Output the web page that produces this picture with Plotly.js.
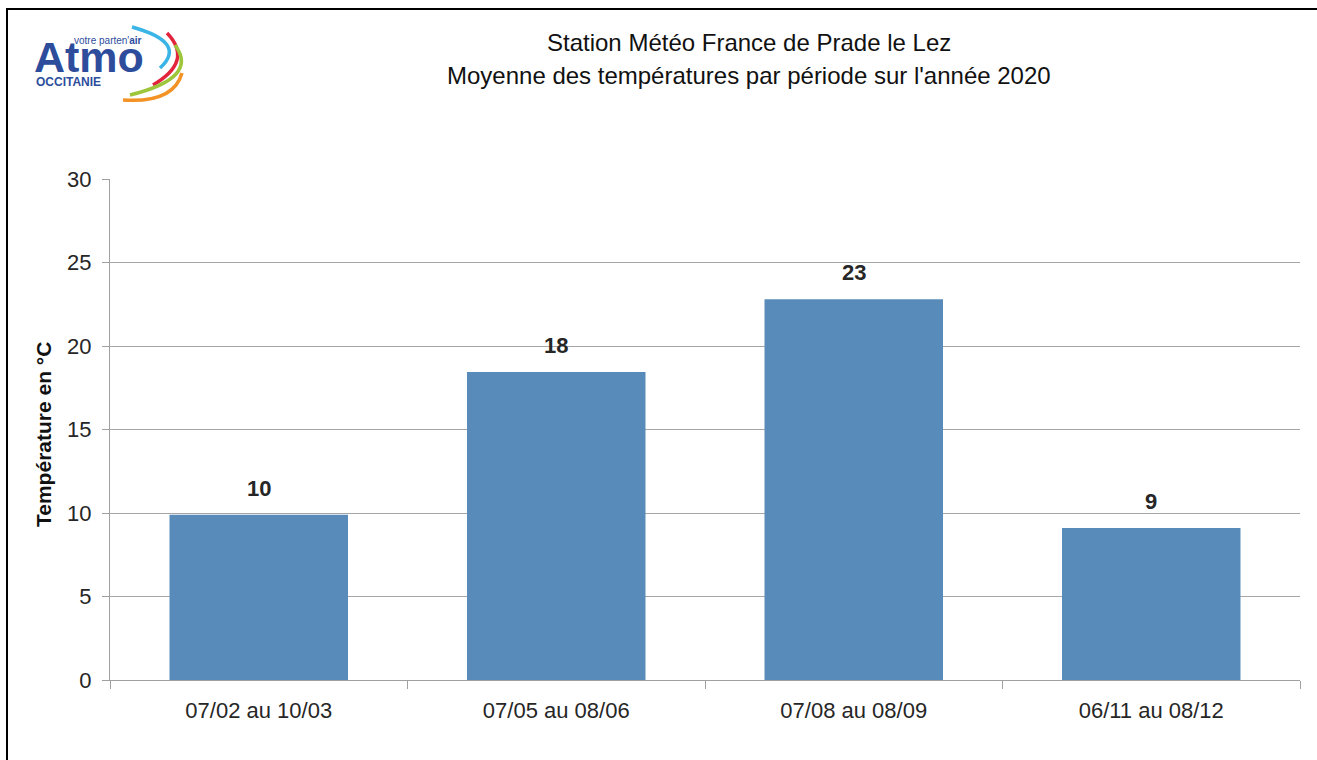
<!DOCTYPE html>
<html>
<head>
<meta charset="utf-8">
<script src="https://cdn.plot.ly/plotly-3.0.1.min.js"></script>
<style>
html,body{margin:0;padding:0;background:#fff;overflow:hidden;}
#wrap{position:relative;width:1317px;height:760px;}
#chart{width:1317px;height:760px;}
#frame{position:absolute;left:6px;top:8px;width:1400px;height:800px;border-left:2px solid #000;border-top:2px solid #000;pointer-events:none;box-sizing:border-box;}
</style>
</head>
<body>
<div id="wrap"><div id="chart"></div><div id="frame"></div></div>
<script>
// ---- data ----
const categories = ["07/02 au 10/03", "07/05 au 08/06", "07/08 au 08/09", "06/11 au 08/12"];
const temperatures = [9.9, 18.45, 22.8, 9.1];
const yTicks = [0, 5, 10, 15, 20, 25, 30];
const titleLines = ["Station Météo France de Prade le Lez", "Moyenne des températures par période sur l'année 2020"];
const yTitle = "Température en °C";

// ---- geometry helpers (page px -> paper) ----
const W = 1317, H = 760;
const M = {l: 110, r: 17, t: 179, b: 80};
const PW = W - M.l - M.r, PH = H - M.t - M.b;
const px = x => (x - M.l) / PW;
const py = y => (H - M.b - y) / PH;

const FONT = "Liberation Sans, Arial, sans-serif";
const barColor = "#588bb9";

const trace = {
  type: "bar",
  x: categories,
  y: temperatures,
  marker: {color: barColor, line: {width: 0}},
  width: 0.6,
  hoverinfo: "x+y"
};

const annotations = categories.map((c, i) => ({
  x: c, y: temperatures[i], xref: "x", yref: "y",
  text: "<b>" + Math.round(temperatures[i]) + "</b>",
  showarrow: false, yanchor: "bottom", yshift: 12,
  font: {family: FONT, size: 22, color: "#262626"}
}));

// title (two lines)
const titleY = [42, 76];
titleLines.forEach((t, i) => annotations.push({
  xref: "paper", yref: "paper", x: px(749), y: py(titleY[i]), xanchor: "center", yanchor: "middle",
  text: t, showarrow: false,
  font: {family: FONT, size: 24, color: "#111"}
}));
// y title
annotations.push({
  xref: "paper", yref: "paper", x: px(43), y: py(435), xanchor: "center", yanchor: "middle",
  text: "<b>" + yTitle + "</b>", textangle: -90, showarrow: false,
  font: {family: "Liberation Sans Narrow, Arial Narrow, " + FONT, size: 21, color: "#111"}
});
// logo texts
annotations.push({
  xref: "paper", yref: "paper", x: px(32), y: py(57), xanchor: "left", yanchor: "middle",
  text: "<b>Atmo</b>", showarrow: false,
  font: {family: FONT, size: 43, color: "#2d4d9c"}
});
annotations.push({
  xref: "paper", yref: "paper", x: px(144), y: py(40), xanchor: "right", yanchor: "middle",
  text: "votre parten'<b>air</b>", showarrow: false,
  font: {family: FONT, size: 10, color: "#2d4d9c"}
});
annotations.push({
  xref: "paper", yref: "paper", x: px(34), y: py(82), xanchor: "left", yanchor: "middle",
  text: "<b>OCCITANIE</b>", showarrow: false,
  font: {family: FONT, size: 12, color: "#2d4d9c"}
});

function arc(s, m, e, color) {
  const c = [2*m[0] - (s[0]+e[0])/2, 2*m[1] - (s[1]+e[1])/2];
  return {
    type: "path", xref: "paper", yref: "paper",
    path: `M ${px(s[0])} ${py(s[1])} Q ${px(c[0])} ${py(c[1])} ${px(e[0])} ${py(e[1])}`,
    line: {color: color, width: 3.5}
  };
}

const shapes = [
  arc([132,27],[167,45],[160,68],"#3bb5e5"),
  arc([167,33],[177,60],[153,85],"#e2253c"),
  arc([175,45],[176,74],[130,95],"#9dc63b"),
  arc([182,73],[163,95],[123,100],"#f39325")
];

const layout = {
  width: W, height: H,
  margin: M,
  paper_bgcolor: "#fff", plot_bgcolor: "#fff",
  showlegend: false,
  bargap: 0.4,
  font: {family: FONT, color: "#333"},
  xaxis: {
    type: "category",
    showline: true, linecolor: "#a0a0a0", linewidth: 1,
    ticks: "outside", tickson: "boundaries", ticklen: 8, tickcolor: "#a0a0a0",
    showgrid: false, zeroline: false,
    tickfont: {family: FONT, size: 22, color: "#262626"},
    ticklabelstandoff: 11
  },
  yaxis: {
    range: [0, 30], tickvals: yTicks, ticktext: yTicks.map(String),
    showline: true, linecolor: "#a0a0a0", linewidth: 1,
    ticks: "outside", ticklen: 7, tickcolor: "#a0a0a0",
    showgrid: true, gridcolor: "#a6a6a6", gridwidth: 1, zeroline: false,
    tickfont: {family: FONT, size: 22, color: "#262626"},
    ticklabelstandoff: 6
  },
  annotations: annotations,
  shapes: shapes
};

Plotly.newPlot("chart", [trace], layout, {displayModeBar: false, staticPlot: true});
</script>
</body>
</html>
